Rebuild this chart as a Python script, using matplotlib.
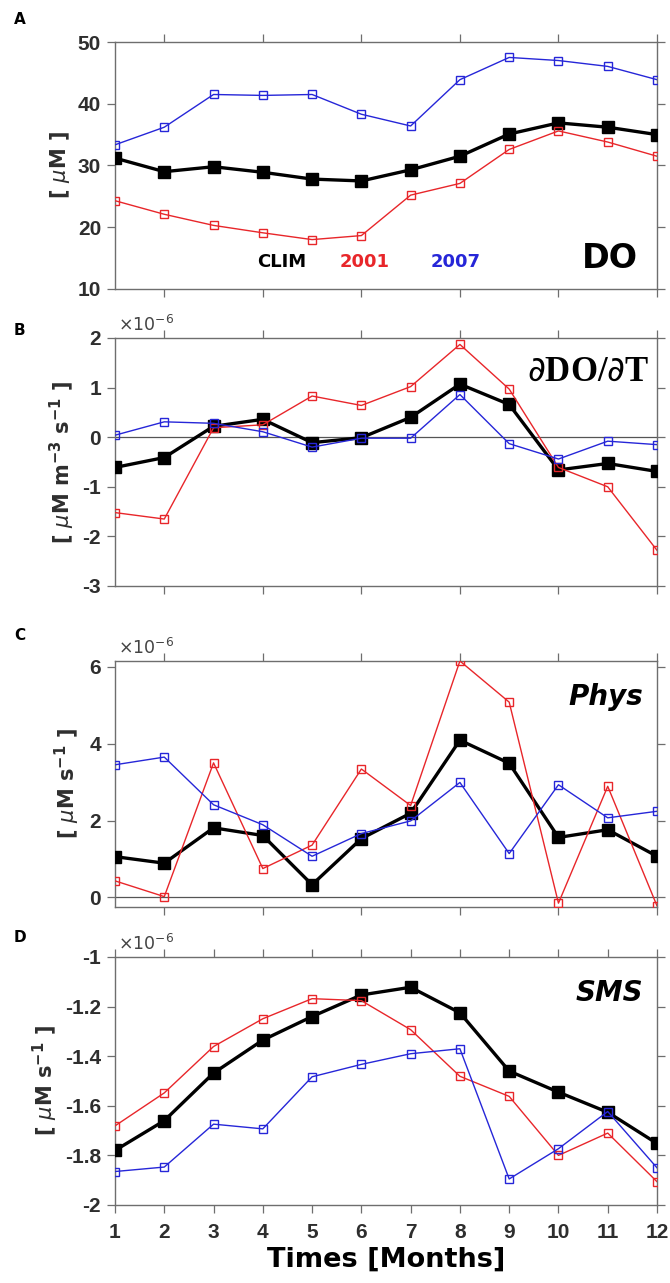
import matplotlib
matplotlib.use('Agg')
import matplotlib.pyplot as plt
import numpy as np

months = np.arange(1, 13)

# panel A: DO [uM]
do_clim = [31.2, 29.0, 29.8, 28.9, 27.8, 27.5, 29.3, 31.5, 35.1, 36.9, 36.2, 35.0]
do_2001 = [24.3, 22.1, 20.3, 19.1, 18.0, 18.65, 25.2, 27.1, 32.6, 35.6, 33.8, 31.5]
do_2007 = [33.35, 36.2, 41.5, 41.35, 41.5, 38.3, 36.4, 43.9, 47.5, 47.0, 46.05, 43.9]

# panel B: dDO/dT [x1e-6]
ddt_clim = [-0.61, -0.41, 0.22, 0.36, -0.11, -0.01, 0.40, 1.07, 0.66, -0.66, -0.53, -0.69]
ddt_2001 = [-1.52, -1.65, 0.19, 0.25, 0.83, 0.64, 1.02, 1.87, 0.97, -0.61, -1.00, -2.28]
ddt_2007 = [0.04, 0.31, 0.28, 0.11, -0.20, -0.02, -0.02, 0.86, -0.13, -0.44, -0.08, -0.15]

# panel C: Phys [x1e-6]
phys_clim = [1.06, 0.89, 1.81, 1.61, 0.33, 1.53, 2.19, 4.09, 3.49, 1.56, 1.76, 1.07]
phys_2001 = [0.43, 0.02, 3.50, 0.75, 1.36, 3.34, 2.39, 6.15, 5.08, -0.15, 2.89, -0.22]
phys_2007 = [3.45, 3.65, 2.41, 1.89, 1.07, 1.66, 1.99, 2.99, 1.14, 2.93, 2.07, 2.24]

# panel D: SMS [x1e-6]
sms_clim = [-1.780, -1.660, -1.468, -1.335, -1.240, -1.153, -1.122, -1.225, -1.460, -1.545, -1.626, -1.752]
sms_2001 = [-1.681, -1.548, -1.361, -1.249, -1.168, -1.176, -1.293, -1.481, -1.562, -1.800, -1.710, -1.906]
sms_2007 = [-1.865, -1.847, -1.674, -1.693, -1.483, -1.433, -1.390, -1.370, -1.895, -1.773, -1.623, -1.850]

RED = "#e8262a"
BLUE = "#2626d8"
SPINE = "#6e6e6e"
TICKFONT = "Liberation Sans"

fig = plt.figure(figsize=(6.7, 12.83), dpi=100)
H = 1283.0
W = 670.0


def make_ax(top, bottom):
    return fig.add_axes([115 / W, 1 - bottom / H, (657 - 115) / W, (bottom - top) / H])


def style(ax, clim, y01, y07, yticks, ylabels, ylim, xticks, show_x):
    ax.plot(months, clim, "-s", color="black", lw=2.4, ms=9, zorder=3)
    ax.plot(months, y01, "-s", color=RED, lw=1.0, ms=5.5, mfc="none", mew=1.0, zorder=4)
    ax.plot(months, y07, "-s", color=BLUE, lw=1.0, ms=5.5, mfc="none", mew=1.0, zorder=5)
    ax.set_xlim(1, 12)
    ax.set_ylim(*ylim)
    ax.set_yticks(yticks)
    ax.set_yticklabels(ylabels, fontsize=15, fontweight="bold", family=TICKFONT, color="#2e2e2e")
    ax.set_xticks(xticks)
    if show_x:
        ax.set_xticklabels([str(m) for m in xticks], fontsize=15, fontweight="bold",
                           family=TICKFONT, color="#2e2e2e")
    else:
        ax.set_xticklabels([])
    ax.tick_params(direction="out", length=6, width=0.9, color=SPINE,
                   top=True, right=True, pad=4)
    ax.tick_params(axis="x", pad=7)
    for s in ax.spines.values():
        s.set_color(SPINE)
        s.set_linewidth(1.0)


axA = make_ax(42, 289)
style(axA, do_clim, do_2001, do_2007, [10, 20, 30, 40, 50], ["10", "20", "30", "40", "50"],
      (10, 50), [2, 4, 6, 8, 10, 12], False)

axB = make_ax(338, 586)
style(axB, ddt_clim, ddt_2001, ddt_2007, [-3, -2, -1, 0, 1, 2], ["-3", "-2", "-1", "0", "1", "2"],
      (-3, 2), [2, 4, 6, 8, 10, 12], False)
axB.axhline(0, color="#555555", lw=0.9, zorder=1)

axC = make_ax(661, 907)
style(axC, phys_clim, phys_2001, phys_2007, [0, 2, 4, 6], ["0", "2", "4", "6"],
      (-0.25, 6.15), [2, 4, 6, 8, 10, 12], False)
axC.axhline(0, color="#555555", lw=0.9, zorder=1)

axD = make_ax(957, 1205)
style(axD, sms_clim, sms_2001, sms_2007, [-2, -1.8, -1.6, -1.4, -1.2, -1],
      ["-2", "-1.8", "-1.6", "-1.4", "-1.2", "-1"], (-2, -1), list(months), True)
axD.set_xlabel("Times [Months]", fontsize=19.5, fontweight="bold", labelpad=3)

# y labels
ylab = [(axA, r"[ $\mu$M ]", 60),
        (axB, r"[ $\mu$M m$^{\mathbf{-3}}$ s$^{\mathbf{-1}}$ ]", 62),
        (axC, r"[ $\mu$M s$^{\mathbf{-1}}$ ]", 67),
        (axD, r"[ $\mu$M s$^{\mathbf{-1}}$ ]", 45)]
for ax, txt, xpix in ylab:
    ax.set_ylabel(txt, fontsize=15, fontweight="bold", color="#2e2e2e")
    ax.yaxis.set_label_coords((xpix - 115) / 542.0, 0.5)
    ax.yaxis.label.set_verticalalignment("center")

# x10^-6 multipliers
for ax in (axB, axC, axD):
    ax.text(0.005, 1.012, r"$\times10^{-6}$", transform=ax.transAxes, ha="left", va="bottom",
            fontsize=12.5, color="#444444")

# panel letters
for txt, ypix in [("A", 19), ("B", 331), ("C", 635), ("D", 937)]:
    fig.text(14 / W, 1 - ypix / H, txt, fontsize=11, fontweight="bold", va="center", ha="left")

# in-panel labels
axA.text(0.262, 0.09, "CLIM", transform=axA.transAxes, fontsize=13, fontweight="bold", color="black")
axA.text(0.415, 0.09, "2001", transform=axA.transAxes, fontsize=13, fontweight="bold", color=RED)
axA.text(0.582, 0.09, "2007", transform=axA.transAxes, fontsize=13, fontweight="bold", color=BLUE)
axA.text(0.965, 0.085, "DO", transform=axA.transAxes, fontsize=24, fontweight="bold", ha="right")

axB.text(0.985, 0.86, r"$\partial$DO/$\partial$T", transform=axB.transAxes, fontsize=25,
         fontweight="bold", family="Liberation Serif", ha="right", va="center")
axC.text(0.975, 0.855, "Phys", transform=axC.transAxes, fontsize=20, fontweight="bold",
         style="italic", ha="right", va="center")
axD.text(0.975, 0.855, "SMS", transform=axD.transAxes, fontsize=20, fontweight="bold",
         style="italic", ha="right", va="center")

fig.savefig("out.png", dpi=100)
